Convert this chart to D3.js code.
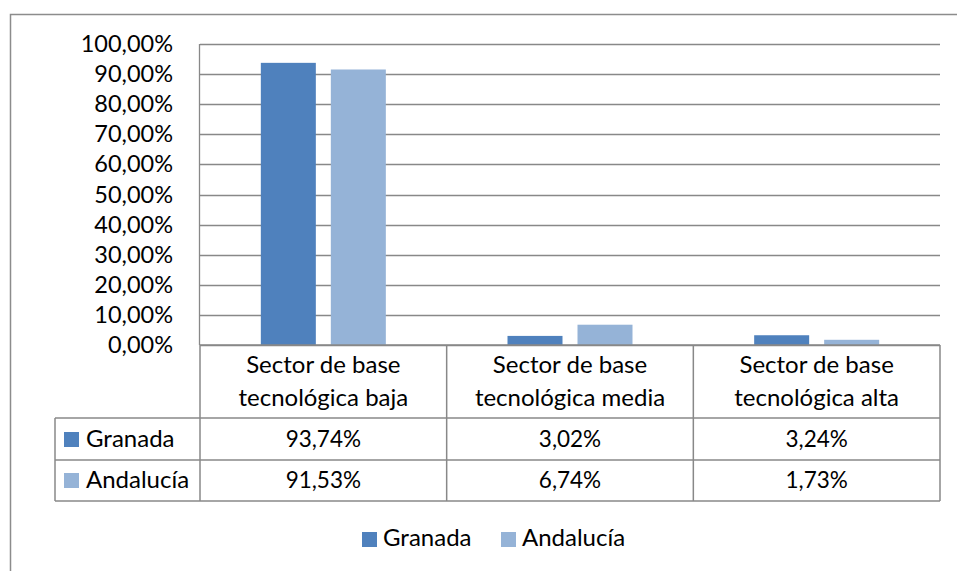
<!DOCTYPE html>
<html>
<head>
<meta charset="utf-8">
<script src="https://cdn.jsdelivr.net/npm/d3@7/dist/d3.min.js"></script>
<style>
  html, body { margin: 0; padding: 0; background: #fff; }
  svg { display: block; }
  text { font-family: Lato, "Open Sans", sans-serif; fill: #000; }
</style>
</head>
<body>
<svg id="chart" width="957" height="571"></svg>
<script>
const categories = [
  ["Sector de base", "tecnológica baja"],
  ["Sector de base", "tecnológica media"],
  ["Sector de base", "tecnológica alta"]
];
const seriesNames = ["Granada", "Andalucía"];
const granada = [93.74, 3.02, 3.24];
const andalucia = [91.53, 6.74, 1.73];
const granadaLabels = ["93,74%", "3,02%", "3,24%"];
const andaluciaLabels = ["91,53%", "6,74%", "1,73%"];
const yTicks = [0, 10, 20, 30, 40, 50, 60, 70, 80, 90, 100];
const colors = ["#4F81BD", "#95B3D7"];

(function () {
const svg = d3.select("#chart");
const W = 957, H = 571;
const pLeft = 200, pRight = 940, pTop = 44, pBottom = 345;
const fsAxis = 23.5, fsText = 24, fsNum = 22.5;

// outer frame
svg.append("path")
  .attr("d", `M10.5,${H} V14.5 H${W}`)
  .attr("fill", "none").attr("stroke", "#8c8c8c").attr("stroke-width", 1.5);

const x = d3.scaleBand().domain(d3.range(categories.length)).range([pLeft, pRight]).padding(0);
const y = d3.scaleLinear().domain([0, 100]).range([pBottom, pTop]);

// gridlines
svg.append("g").selectAll("line").data(yTicks).join("line")
  .attr("x1", pLeft).attr("x2", pRight)
  .attr("y1", d => Math.round(y(d)) + 0.5).attr("y2", d => Math.round(y(d)) + 0.5)
  .attr("stroke", "#888").attr("stroke-width", 1.3);

// left axis line
svg.append("line").attr("x1", pLeft - 0.5).attr("x2", pLeft - 0.5)
  .attr("y1", pTop).attr("y2", pBottom).attr("stroke", "#888").attr("stroke-width", 1.3);

// y labels
const fmt = d => d3.format(".2f")(d).replace(".", ",") + "%";
const yAxis = d3.axisLeft(y).tickValues(yTicks).tickFormat(fmt).tickSize(0).tickPadding(27);
const ya = svg.append("g").attr("transform", `translate(${pLeft},0)`).call(yAxis);
ya.select(".domain").remove();
ya.selectAll("text").attr("font-size", fsAxis).attr("font-family", "Lato, sans-serif").attr("fill", "#000");

// bars
const bw = 55, gap = 15;
const series = [granada, andalucia];
series.forEach((vals, si) => {
  svg.append("g").selectAll("rect").data(vals).join("rect")
    .attr("x", (d, i) => x(i) + x.bandwidth() / 2 + (si === 0 ? -gap / 2 - bw : gap / 2))
    .attr("width", bw)
    .attr("y", d => y(d))
    .attr("height", d => y(0) - y(d))
    .attr("fill", colors[si]);
});

// data table
const tblLeft = 55, rowH = [345, 418, 460, 501];
const tg = svg.append("g").attr("stroke", "#888").attr("stroke-width", 1.5).attr("fill", "none");
tg.append("line").attr("x1", pLeft).attr("x2", pRight).attr("y1", rowH[0]).attr("y2", rowH[0]);
[rowH[1], rowH[2], rowH[3]].forEach(yy => {
  tg.append("line").attr("x1", tblLeft).attr("x2", pRight).attr("y1", yy).attr("y2", yy);
});
tg.append("line").attr("x1", tblLeft).attr("x2", tblLeft).attr("y1", rowH[1]).attr("y2", rowH[3]);
d3.range(categories.length + 1).forEach(i => {
  const xx = i < categories.length ? x(i) : pRight;
  tg.append("line").attr("x1", xx).attr("x2", xx).attr("y1", rowH[0]).attr("y2", rowH[3]);
});

// category labels
categories.forEach((lines, i) => {
  const cx = x(i) + x.bandwidth() / 2;
  lines.forEach((ln, j) => {
    svg.append("text").attr("x", cx).attr("y", 373 + j * 33)
      .attr("text-anchor", "middle").attr("font-size", fsText).text(ln);
  });
});

// value rows
[granadaLabels, andaluciaLabels].forEach((labs, si) => {
  const base = si === 0 ? 447 : 488;
  labs.forEach((t, i) => {
    svg.append("text").attr("x", x(i) + x.bandwidth() / 2).attr("y", base)
      .attr("text-anchor", "middle").attr("font-size", fsNum).text(t);
  });
  svg.append("rect").attr("x", 64).attr("y", base - 15).attr("width", 15).attr("height", 15).attr("fill", colors[si]);
  svg.append("text").attr("x", 86).attr("y", base).attr("font-size", fsText).text(seriesNames[si]);
});

// legend
const legX = [362, 501];
seriesNames.forEach((n, i) => {
  svg.append("rect").attr("x", legX[i]).attr("y", 532).attr("width", 15).attr("height", 15).attr("fill", colors[i]);
  svg.append("text").attr("x", legX[i] + 21).attr("y", 546).attr("font-size", fsText).text(n);
});
})();
</script>
</body>
</html>
